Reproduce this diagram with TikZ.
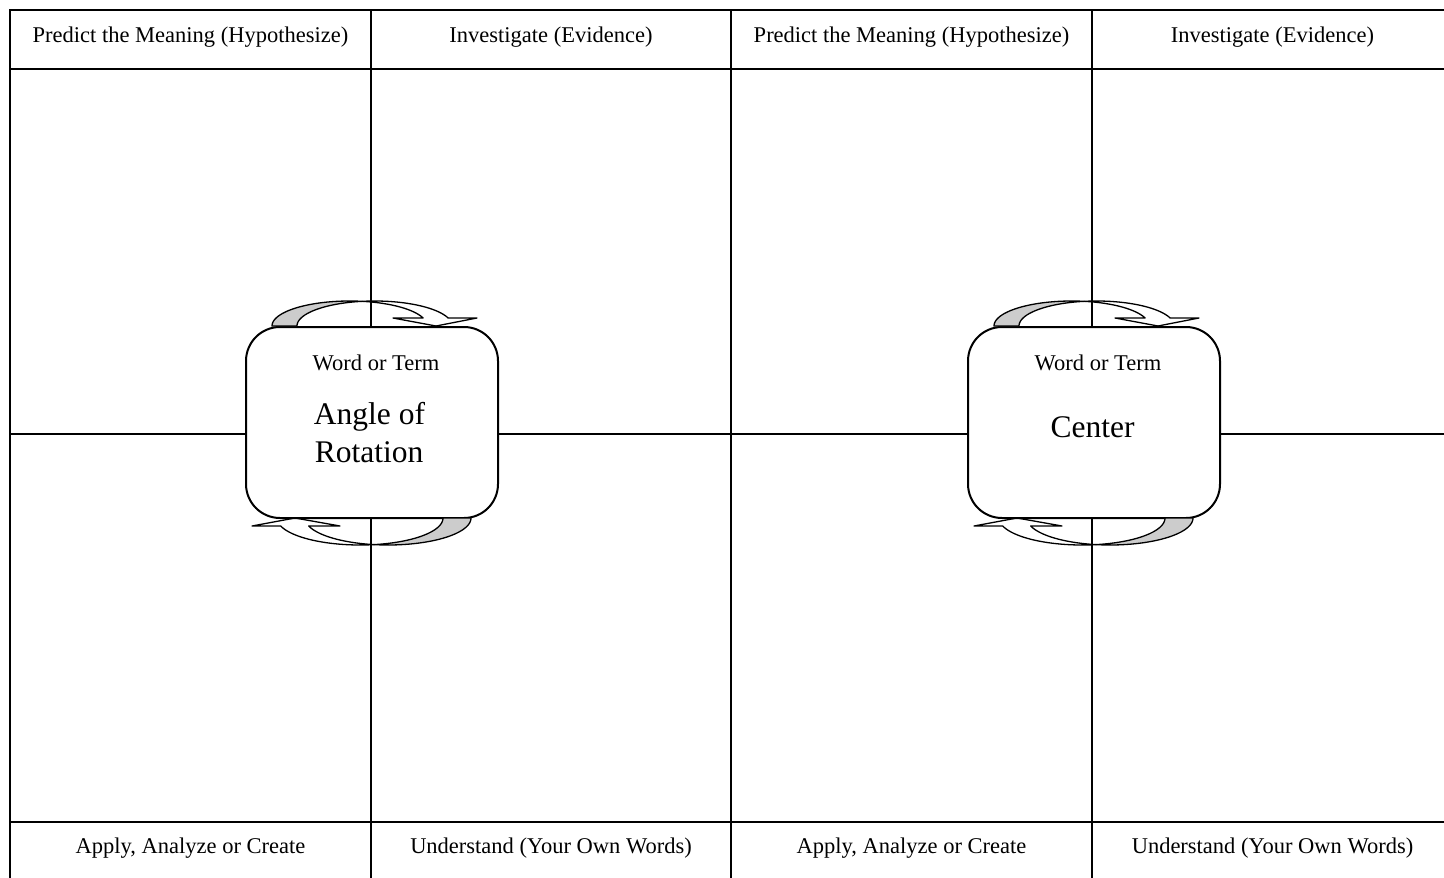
\documentclass[tikz,border=0pt]{standalone}
\usepackage{fontspec}
\setmainfont{Liberation Serif}
\begin{document}
\begin{tikzpicture}[x=1pt,y=-1pt,
  gridline/.style={line width=2.6pt},
  wordbox/.style={draw,line width=2pt,fill=white,rounded corners=34pt,minimum width=252pt,minimum height=191pt,inner sep=0pt},
  arrowline/.style={draw,line width=1.3pt,line join=round},
  backfill/.style={fill=black!20},
  small/.style={font=\fontsize{22.5}{27}\selectfont,inner sep=0pt,anchor=base},
  big/.style={font=\fontsize{31.5}{38}\selectfont,inner sep=0pt,anchor=base}]
\useasboundingbox (0,0) rectangle (1444,878);
% grid
\draw[gridline] (1444,10) -- (10,10) -- (10,878);
\draw[gridline] (10,69) -- (1444,69);
\draw[gridline] (10,822) -- (1444,822);
\foreach \x in {371,731,1092} \draw[gridline] (\x,10) -- (\x,878);
\draw[gridline] (10,434) -- (1444,434);
% boxes
\node[wordbox] (b1) at (372,422.5) {};
\node[wordbox] (b2) at (1094,422.5) {};
% curved arrows
\foreach \dx in {0,722}{
\begin{scope}[xshift=\dx pt]
  % top arrow
  \path[arrowline,backfill] plot[domain=180:279.27,samples=40,variable=\t] ({349.6+77.6*cos(\t)},{326+25*sin(\t)})
     -- plot[domain=260.73:180,samples=40,variable=\t] ({374.6+77.6*cos(\t)},{326+25*sin(\t)}) -- cycle;
  \path[arrowline] plot[domain=260.73:341.34,samples=40,variable=\t] ({374.6+77.6*cos(\t)},{326+25*sin(\t)})
     -- (477,318) -- (436,326) -- (393,318) -- (423.1,318)
     -- plot[domain=341.34:279.27,samples=40,variable=\t] ({349.6+77.6*cos(\t)},{326+25*sin(\t)}) -- cycle;
  % bottom arrow
  \path[arrowline,backfill] plot[domain=0:99.71,samples=40,variable=\t] ({388+83*cos(\t)},{518+27*sin(\t)})
     -- plot[domain=80.29:0,samples=40,variable=\t] ({360+83*cos(\t)},{518+27*sin(\t)}) -- cycle;
  \path[arrowline] plot[domain=80.29:162.8,samples=40,variable=\t] ({360+83*cos(\t)},{518+27*sin(\t)})
     -- (252,526) -- (295,518) -- (340,526) -- (308.7,526)
     -- plot[domain=162.8:99.71,samples=40,variable=\t] ({388+83*cos(\t)},{518+27*sin(\t)}) -- cycle;
\end{scope}}
% header texts
\node[small] (h1) at (190.5,42) {Predict the Meaning (Hypothesize)};
\node[small] (h2) at (551,42) {Investigate (Evidence)};
\node[small] (h3) at (911.5,42) {Predict the Meaning (Hypothesize)};
\node[small] (h4) at (1272.5,42) {Investigate (Evidence)};
% footer texts
\node[small] (f1) at (190.5,853) {Apply, Analyze or Create};
\node[small] (f2) at (551,853) {Understand (Your Own Words)};
\node[small] (f3) at (911.5,853) {Apply, Analyze or Create};
\node[small] (f4) at (1272.5,853) {Understand (Your Own Words)};
% box texts
\node[small] (w1) at (376,370) {Word or Term};
\node[big] (t1a) at (369.5,424) {Angle of};
\node[big] (t1b) at (369,462) {Rotation};
\node[small] (w2) at (1098,370) {Word or Term};
\node[big] (t2) at (1092.5,437) {Center};
\end{tikzpicture}
\end{document}
